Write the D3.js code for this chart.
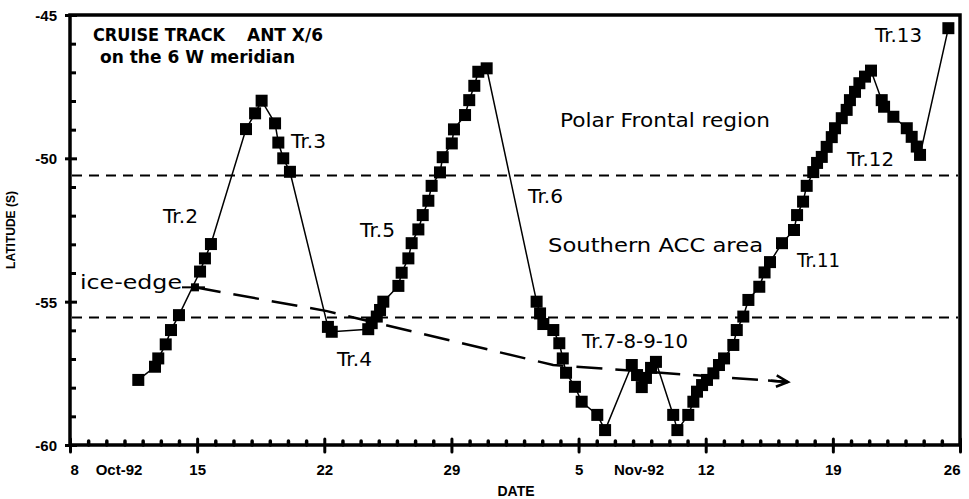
<!DOCTYPE html>
<html>
<head>
<meta charset="utf-8">
<script src="https://cdn.jsdelivr.net/npm/d3@7/dist/d3.min.js"></script>
<style>
  html, body { margin: 0; padding: 0; background: #fff; }
  svg { display: block; }
  .axis-label text { font-family: "Liberation Sans", Arial, sans-serif; font-weight: bold; font-size: 15px; fill: #000; }
  .note { font-family: "DejaVu Sans", sans-serif; font-size: 19px; fill: #000; }
  .title { font-family: "DejaVu Sans", sans-serif; font-weight: bold; font-size: 17px; fill: #000; }
</style>
</head>
<body>
<svg id="chart" width="969" height="499"></svg>
<script>
// Cruise track of RV Polarstern ANT X/6 along the 6°W meridian.
// Days are counted from 1 October 1992 (day 32 = 1 November).
const trackDay = [
  11.76, 12.68, 12.86, 13.27, 13.56, 14.00, 15.16, 15.43, 15.76, 17.69,
  18.19, 18.55, 19.29, 19.47, 19.74, 20.11, 22.20, 22.41, 24.42, 24.61,
  24.89, 25.07, 25.25, 26.08, 26.26, 26.63, 26.81, 27.18, 27.42, 27.73,
  27.91, 28.37, 28.52, 29.02, 29.14, 29.75, 29.98, 30.26, 30.48, 30.94,
  33.69, 33.88, 34.06, 34.61, 34.94, 35.13, 35.31, 35.80, 36.17, 37.03,
  37.46, 38.93, 39.22, 39.48, 39.71, 39.99, 40.26, 41.21, 41.44, 42.04,
  42.32, 42.52, 42.80, 43.07, 43.42, 43.73, 44.01, 44.52, 44.71, 45.07,
  45.35, 45.95, 46.24, 46.54, 47.20, 47.86, 48.03, 48.36, 48.56, 48.92,
  49.13, 49.39, 49.66, 49.94, 50.12, 50.49, 50.76, 50.94, 51.22, 51.46,
  51.77, 52.10, 52.69, 52.82, 53.33, 54.07, 54.34, 54.62, 54.80, 56.36
];
const trackLat = [
  -57.73, -57.27, -56.98, -56.49, -55.99, -55.47, -53.95, -53.49, -52.99, -48.98,
  -48.43, -47.99, -48.78, -49.45, -50.00, -50.47, -55.88, -56.05, -55.96, -55.75,
  -55.52, -55.29, -55.00, -54.45, -53.99, -53.49, -52.96, -52.48, -51.98, -51.48,
  -50.96, -50.49, -49.96, -49.48, -48.99, -48.49, -47.97, -47.47, -46.98, -46.86,
  -55.00, -55.41, -55.78, -55.99, -56.45, -56.98, -57.48, -57.97, -58.49, -58.95,
  -59.48, -57.21, -57.56, -57.98, -57.66, -57.31, -57.10, -58.95, -59.48, -58.95,
  -58.49, -58.14, -57.91, -57.73, -57.50, -57.21, -56.98, -56.51, -55.99, -55.52,
  -54.94, -54.48, -53.98, -53.62, -52.96, -52.50, -51.98, -51.51, -50.96, -50.48,
  -50.16, -49.95, -49.60, -49.26, -48.95, -48.60, -48.31, -47.97, -47.68, -47.38,
  -47.15, -46.94, -47.97, -48.20, -48.55, -48.95, -49.25, -49.59, -49.88, -45.46
];
// Position of the sea-ice edge
const iceEdgeDay = [14.88, 22.15, 34.60, 47.53];
const iceEdgeLat = [-54.50, -55.33, -57.21, -57.80];
// Frontal boundaries: Polar Front region / southern ACC / ice zone
const zoneLat = [-50.6, -55.55];

const dayRange = [8, 57];
const latRange = [-60, -45];
const latTicks = [-60, -55, -50, -45];
const dayTicks = [8, 15, 22, 29, 36, 43, 50, 57];
const dayTickLabels = ["8", "15", "22", "29", "5", "12", "19", "26"];
const monthNames = ["Oct-92", "Nov-92"];
const monthDays = [10.67, 39.3];

const origin = Date.UTC(1992, 9, 1);
const toDate = d => new Date(origin + (d - 1) * 864e5);

const W = 969, H = 499;
const margin = { left: 70, right: 9, top: 15, bottom: 54 };
const x = d3.scaleUtc().domain(dayRange.map(toDate)).range([margin.left, W - margin.right]);
const y = d3.scaleLinear().domain(latRange).range([H - margin.bottom, margin.top]);
const [x0, x1] = x.range();
const [y0, y1] = y.range();

const svg = d3.select("#chart");

// zone boundaries (short dashes)
svg.append("g").selectAll("line").data(zoneLat).join("line")
  .attr("x1", x0 + 2).attr("x2", x1 - 2)
  .attr("y1", d => y(d)).attr("y2", d => y(d))
  .attr("stroke", "#000").attr("stroke-width", 2).attr("stroke-dasharray", "10,7");

// ice edge (long dashes ending in an arrow)
const ice = iceEdgeDay.map((d, i) => [x(toDate(d)), y(iceEdgeLat[i])]);
svg.append("path").attr("d", d3.line()(ice))
  .attr("fill", "none").attr("stroke", "#000").attr("stroke-width", 2.5)
  .attr("stroke-dasharray", "26,13");
{
  const [ax, ay] = ice[ice.length - 1];
  const [bx, by] = ice[ice.length - 2];
  const a = Math.atan2(ay - by, ax - bx);
  const L = 13, th = 0.45, S = 20;
  const p = `M${ax - S * Math.cos(a)},${ay - S * Math.sin(a)}L${ax},${ay}` +
    `M${ax - L * Math.cos(a - th)},${ay - L * Math.sin(a - th)}L${ax},${ay}` +
    `L${ax - L * Math.cos(a + th)},${ay - L * Math.sin(a + th)}`;
  svg.append("path").attr("d", p).attr("fill", "none").attr("stroke", "#000")
    .attr("stroke-width", 2.5).attr("stroke-linejoin", "miter");
}

// cruise track
const track = trackDay.map((d, i) => ({ date: toDate(d), lat: trackLat[i] }));
svg.append("path").datum(track)
  .attr("d", d3.line().x(d => x(d.date)).y(d => y(d.lat)))
  .attr("fill", "none").attr("stroke", "#000").attr("stroke-width", 1.5);
svg.append("g").selectAll("rect").data(track).join("rect")
  .attr("x", d => x(d.date) - 6).attr("y", d => y(d.lat) - 6)
  .attr("width", 12).attr("height", 12).attr("fill", "#000");

// ice-edge label leader and its marker
svg.append("line")
  .attr("x1", x(toDate(8.55)) + 102).attr("x2", ice[0][0] + 10)
  .attr("y1", ice[0][1]).attr("y2", ice[0][1])
  .attr("stroke", "#000").attr("stroke-width", 2);
svg.append("rect").attr("x", ice[0][0] - 4).attr("y", ice[0][1] - 4)
  .attr("width", 8).attr("height", 8).attr("fill", "#000");

// frame
svg.append("rect").attr("x", x0).attr("y", y1).attr("width", x1 - x0).attr("height", y0 - y1)
  .attr("fill", "none").attr("stroke", "#000").attr("stroke-width", 3.5);

// axes: major ticks cross the axis, daily / 1-degree minor ticks point inward
function styleTicks(g, w, cap) {
  g.select(".domain").remove();
  g.selectAll("line").attr("stroke", "#000").attr("stroke-width", w).attr("stroke-linecap", cap);
  g.selectAll("text").remove();
}
const majorDates = dayTicks.map(toDate);
const minorDates = d3.range(dayRange[0] + 1, dayRange[1]).filter(d => !dayTicks.includes(d)).map(toDate);
const minorLats = d3.range(latRange[0] + 1, latRange[1]).filter(d => !latTicks.includes(d));

const xg = svg.append("g").attr("transform", `translate(0,${y0})`);
xg.append("g").call(d3.axisBottom(x).tickValues(majorDates).tickSize(7).tickSizeOuter(0)).call(g => styleTicks(g, 3, "round"));
xg.append("g").call(d3.axisBottom(x).tickValues(majorDates).tickSize(-6).tickSizeOuter(0)).call(g => styleTicks(g, 3, "round"));
xg.append("g").call(d3.axisBottom(x).tickValues(minorDates).tickSize(-4).tickSizeOuter(0)).call(g => styleTicks(g, 3.5, "round"));

const yg = svg.append("g").attr("transform", `translate(${x0},0)`);
yg.append("g").call(d3.axisLeft(y).tickValues(latTicks).tickSize(5).tickSizeOuter(0)).call(g => styleTicks(g, 3, "butt"));
yg.append("g").call(d3.axisLeft(y).tickValues(latTicks).tickSize(-7).tickSizeOuter(0)).call(g => styleTicks(g, 3, "butt"));
yg.append("g").call(d3.axisLeft(y).tickValues(minorLats).tickSize(-6).tickSizeOuter(0)).call(g => styleTicks(g, 3, "butt"));

// tick labels
const xl = svg.append("g").attr("class", "axis-label").attr("transform", `translate(0,${y0})`)
  .call(d3.axisBottom(x).tickValues(majorDates).tickSize(0).tickFormat((d, i) => dayTickLabels[i]));
xl.select(".domain").remove();
xl.selectAll("text").attr("y", 30).attr("dy", 0);
xl.selectAll(".tick").filter((d, i) => i === 0).select("text").attr("text-anchor", "start");
xl.selectAll(".tick").filter((d, i, n) => i === n.length - 1).select("text").attr("text-anchor", "end");

const ml = svg.append("g").attr("class", "axis-label").attr("transform", `translate(0,${y0})`)
  .call(d3.axisBottom(x).tickValues(monthDays.map(toDate)).tickSize(0).tickFormat((d, i) => monthNames[i]));
ml.select(".domain").remove();
ml.selectAll("text").attr("y", 30).attr("dy", 0);

const yl = svg.append("g").attr("class", "axis-label").attr("transform", `translate(${x0},0)`)
  .call(d3.axisLeft(y).tickValues(latTicks).tickSize(0).tickPadding(13).tickFormat(d => String(d)));
yl.select(".domain").remove();
yl.selectAll("text").attr("dy", "0.36em");

// axis titles
svg.append("text").attr("x", 516).attr("y", 496).attr("text-anchor", "middle")
  .style("font-family", "Liberation Sans, Arial, sans-serif").style("font-weight", "bold").style("font-size", "14px")
  .text("DATE");
svg.append("text").attr("transform", `translate(15,${(y0 + y1) / 2}) rotate(-90)`).attr("text-anchor", "middle")
  .style("font-family", "Liberation Sans, Arial, sans-serif").style("font-weight", "bold").style("font-size", "12px")
  .text("LATITUDE (S)");

// chart title
svg.append("text").attr("class", "title").attr("x", x0 + 23).attr("y", 41)
  .attr("textLength", 132).attr("lengthAdjust", "spacingAndGlyphs").text("CRUISE TRACK");
svg.append("text").attr("class", "title").attr("x", x0 + 177).attr("y", 41)
  .attr("textLength", 76).attr("lengthAdjust", "spacingAndGlyphs").text("ANT X/6");
svg.append("text").attr("class", "title").attr("x", x0 + 30).attr("y", 63)
  .attr("textLength", 195).attr("lengthAdjust", "spacingAndGlyphs").text("on the 6 W meridian");

// transect and region annotations (day, latitude of baseline start)
const notes = [
  { t: "Tr.2", d: 13.12, lat: -52.26, w: 35 },
  { t: "Tr.3", d: 20.17, lat: -49.64, w: 35 },
  { t: "Tr.4", d: 22.70, lat: -57.24, w: 35 },
  { t: "Tr.5", d: 23.97, lat: -52.74, w: 35 },
  { t: "Tr.6", d: 33.22, lat: -51.56, w: 35 },
  { t: "Tr.7-8-9-10", d: 36.19, lat: -56.62, w: 106 },
  { t: "Tr.11", d: 48.03, lat: -53.79, w: 43 },
  { t: "Tr.12", d: 50.78, lat: -50.27, w: 47 },
  { t: "Tr.13", d: 52.32, lat: -45.94, w: 47 },
  { t: "ice-edge", d: 8.55, lat: -54.56, w: 102 },
  { t: "Polar Frontal region", d: 34.98, lat: -48.91, w: 210 },
  { t: "Southern ACC area", d: 34.32, lat: -53.27, w: 215 }
];
svg.append("g").selectAll("text").data(notes).join("text")
  .attr("class", "note")
  .attr("x", n => x(toDate(n.d))).attr("y", n => y(n.lat))
  .attr("textLength", n => n.w).attr("lengthAdjust", "spacingAndGlyphs")
  .text(n => n.t);
</script>
</body>
</html>
